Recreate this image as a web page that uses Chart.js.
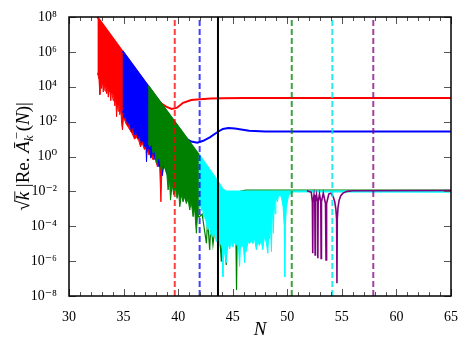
<!DOCTYPE html>
<html>
<head>
<meta charset="utf-8">
<script src="https://cdn.jsdelivr.net/npm/chart.js@4/dist/chart.umd.min.js"></script>
<style>
  html, body { margin: 0; padding: 0; background: #fff; }
  canvas { display: block; }
</style>
</head>
<body>
<canvas id="chart" width="463" height="348"></canvas>
<script>
// all values are log10 of sqrt(k)|Re A_k(N)|

// red: upper edge (envelope then smooth tail), lower edge of the spiky band
const redTopN = [32.6, 38.3, 38.9, 39.4, 39.9, 40.45, 41.2, 42.0, 43.0, 44.0, 46.0, 65.0];
const redTopLog = [8.0, 3.1, 2.86, 2.73, 2.8, 3.08, 3.24, 3.29, 3.32, 3.34, 3.35, 3.35];
const redLowN = [32.6, 32.68, 32.75, 32.83, 32.9, 32.97, 33.05, 33.14, 33.22, 33.3, 33.38, 33.45, 33.53, 33.6,
  33.68, 33.75, 33.83, 33.9, 33.98, 34.05, 34.12, 34.2, 34.28, 34.36, 34.43, 34.5, 34.58, 34.66, 34.74, 34.82,
  34.9, 35.0, 35.2, 35.4, 35.6, 35.8, 36.0, 36.2, 36.4, 36.55, 36.7, 36.9, 37.1, 37.3, 37.5, 37.7, 37.9, 38.1,
  38.3, 38.42, 38.5];
const redLowLog = [4.8, 4.6, 4.4, 3.55, 4.3, 3.9, 4.4, 3.7, 4.2, 3.75, 4.1, 3.6, 4.0, 3.4,
  3.9, 3.7, 3.2, 3.8, 3.5, 3.2, 3.6, 2.9, 3.4, 2.28, 3.1, 2.6, 3.0, 2.4, 2.8, 1.9,
  1.52, 2.3, 1.9, 1.7, 1.5, 1.3, 1.0, 1.1, 0.9, 0.55, 0.8, 0.4, 0.5, 0.1, 0.2, -0.2, -0.1, -0.6,
  -0.4, -2.6, -0.9];

// blue
const blueTopN = [34.9, 40.8, 41.2, 41.75, 42.3, 42.9, 43.65, 44.1, 44.6, 45.2, 46.5, 48.0, 52.0, 65.0];
const blueTopLog = [6.05, 1.0, 0.86, 0.79, 0.9, 1.1, 1.42, 1.58, 1.64, 1.6, 1.48, 1.44, 1.43, 1.43];
const blueLowN = [34.9, 34.97, 35.05, 35.15, 35.27, 35.4, 35.5, 35.58, 35.72, 35.8, 35.88, 36.03, 36.1, 36.19,
  36.34, 36.42, 36.49, 36.64, 36.72, 36.79, 36.95, 37.05, 37.1, 37.16, 37.3, 37.5, 37.7, 37.9, 38.1, 38.25,
  38.4, 38.55, 38.7, 38.95, 39.2, 39.5, 39.8, 40.1, 40.4, 40.6, 40.76, 40.8];
const blueLowLog = [2.6, 2.48, 2.2, 2.4, 2.09, 1.81, 2.0, 1.9, 1.42, 1.7, 1.62, 1.23, 1.5, 1.33,
  1.04, 1.2, 1.14, 0.76, 0.95, 0.85, 0.56, 0.7, -0.3, 0.4, 0.5, -0.1, 0.3, -0.2, 0.1, -0.6,
  -0.1, -1.1, -0.4, -1.0, -0.5, -1.2, -0.9, -1.6, -1.3, -2.0, -2.6, -1.8];

// green: solid band, then thin spikes settling on the plateau
const greenTopN = [37.25, 41.9];
const greenTopLog = [4.05, 0.1];
const greenLowN = [37.25, 37.4, 37.56, 37.7, 37.86, 38.0, 38.16, 38.32, 38.47, 38.62, 38.78, 38.95, 39.08,
  39.2, 39.3, 39.45, 39.6, 39.75, 39.9, 40.05, 40.15, 40.3, 40.45, 40.6, 40.75, 40.9, 41.06, 41.2, 41.37,
  41.5, 41.67, 41.78, 41.9];
const greenLowLog = [0.76, 0.56, 0.76, 0.18, 0.37, -0.39, -0.1, -0.2, -0.87, -0.49, -0.68, -0.9, -1.92,
  -1.2, -2.5, -1.6, -2.2, -1.8, -2.4, -2.0, -2.88, -2.2, -2.6, -2.3, -2.7, -2.4, -3.07, -2.6, -3.45,
  -2.9, -4.4, -3.3, -3.5];
const greenTailN = [41.9, 42.2, 42.59, 42.7, 42.89, 43.0, 43.19, 43.4, 43.7, 43.96, 44.1, 44.41, 44.5, 44.7,
  45.0, 45.25, 45.35, 45.45, 45.7, 46.2, 65.0];
const greenTailLog = [-3.5, -3.3, -4.98, -3.6, -5.36, -3.8, -5.07, -3.9, -3.6, -6.03, -3.5, -6.22, -3.0, -2.3,
  -2.05, -2.4, -7.65, -2.4, -2.0, -1.93, -1.92];

// cyan
const cyanTopN = [41.85, 43.65, 44.05, 44.3, 65.0];
const cyanTopLog = [0.15, -1.45, -1.85, -1.99, -2.02];
const cyanLowN = [41.85, 41.95, 42.05, 42.13, 42.25, 42.35, 42.45, 42.6, 42.73, 42.85, 43.0, 43.1, 43.2, 43.35,
  43.5, 43.65, 43.8, 43.95, 44.05, 44.1, 44.15, 44.26, 44.41, 44.5, 44.6, 44.72, 44.85, 45.02, 45.15, 45.3,
  45.45, 45.55, 45.63, 45.7, 45.85, 46.0, 46.09, 46.15, 46.24, 46.4, 46.54, 46.7, 46.85, 47.0, 47.16, 47.3,
  47.45, 47.6, 47.76, 47.9, 48.07, 48.22, 48.3, 48.37, 48.45, 48.55, 48.62, 48.72, 48.8, 48.88, 48.95, 49.1,
  49.2, 49.45, 49.62, 49.72, 49.77, 49.82, 49.92, 50.1, 50.35, 50.6];
const cyanLowLog = [-2.6, -3.0, -2.7, -3.1, -3.0, -3.6, -3.3, -3.9, -4.2, -3.9, -4.5, -4.2, -4.6, -4.4,
  -4.9, -4.8, -5.1, -4.9, -5.3, -6.9, -5.3, -5.55, -6.1, -5.4, -5.0, -5.3, -4.9, -5.2, -4.9, -5.1,
  -5.0, -5.4, -6.3, -5.3, -5.0, -5.3, -6.1, -5.4, -5.45, -4.9, -5.0, -4.8, -5.0, -4.7, -5.35, -4.9,
  -5.1, -4.8, -5.35, -4.6, -4.9, -5.55, -4.5, -4.7, -3.9, -5.45, -2.6, -4.4, -2.5, -3.3, -2.4, -2.6,
  -2.2, -2.3, -2.9, -4.0, -6.9, -4.0, -2.9, -2.3, -2.05, -2.02];

// purple: plateau with a few sharp dips
const purpleN = [51.8, 52.2, 52.3, 52.33, 52.36, 52.45, 52.52, 52.55, 52.58, 52.68, 52.77, 52.8, 52.83, 52.95,
  53.07, 53.1, 53.13, 53.3, 53.5, 53.55, 53.6, 53.8, 54.0, 54.2, 54.35, 54.45, 54.52, 54.55, 54.58, 54.65,
  54.75, 54.9, 55.1, 55.5, 56.0, 65.0];
const purpleLog = [-1.97, -2.05, -2.6, -5.55, -2.6, -2.2, -2.6, -5.65, -2.6, -2.2, -2.6, -5.84, -2.6, -2.15,
  -2.6, -5.84, -2.6, -2.1, -2.7, -5.93, -2.7, -2.15, -2.1, -2.3, -2.6, -3.0, -3.6, -7.27, -3.6, -2.9,
  -2.5, -2.25, -2.1, -2.0, -1.96, -1.95];

// vertical marker lines
const markerN = [39.69, 41.97, 43.65, 50.41, 54.13, 57.88];
const markerColor = ["rgba(255,0,0,0.75)", "rgba(0,0,255,0.75)", "#000", "rgba(0,128,0,0.75)", "rgba(0,230,230,0.85)", "rgba(128,0,128,0.75)"];
const markerDashed = [true, true, false, true, true, true];

const yTickVals = [1e-8, 1e-6, 1e-4, 1e-2, 1e0, 1e2, 1e4, 1e6, 1e8];
const FONT = "'Liberation Serif', 'DejaVu Serif', serif";

const pts = (ns, logs) => ns.map((n, i) => ({ x: n, y: Math.pow(10, logs[i]) }));

const SUP = { "-": "\u207B", "0": "\u2070", "1": "\u00B9", "2": "\u00B2", "4": "\u2074", "6": "\u2076", "8": "\u2078" };
function powLabel(v) {
  const e = String(Math.round(Math.log10(v)));
  return "10" + e.split("").map((c) => SUP[c] || c).join("");
}

function band(top, low, color, order) {
  return [
    { data: top, borderColor: color, backgroundColor: color, borderWidth: 2, fill: "+1", order: order + 0.1 },
    { data: low, borderColor: color, borderWidth: 1, fill: false, order },
  ];
}

const datasets = [
  ...band(pts(redTopN, redTopLog), pts(redLowN, redLowLog), "#ff0000", 7),
  ...band(pts(blueTopN, blueTopLog), pts(blueLowN, blueLowLog), "#0000ff", 6),
  { data: pts(greenTailN, greenTailLog), borderColor: "#008000", borderWidth: 1.2, fill: false, order: 5.5 },
  ...band(pts(cyanTopN, cyanTopLog), pts(cyanLowN, cyanLowLog), "#00ffff", 5),
  { data: pts(purpleN, purpleLog), borderColor: "#800080", borderWidth: 1.6, fill: false, order: 4 },
  ...band(pts(greenTopN, greenTopLog), pts(greenLowN, greenLowLog), "#008000", 3),
];

markerN.forEach((n, i) => {
  datasets.push({
    data: [{ x: n, y: 1e-8 }, { x: n, y: 1e8 }],
    borderColor: markerColor[i],
    borderWidth: 2,
    borderDash: markerDashed[i] ? [6, 3] : [],
    fill: false,
    order: 1,
  });
});

// frame and inward ticks on all four sides
const frameTicks = {
  id: "frameTicks",
  afterDraw(chart) {
    const { ctx, chartArea: a } = chart;
    const x = chart.scales.x, y = chart.scales.y;
    ctx.save();
    ctx.strokeStyle = "#555";
    ctx.lineWidth = 1;
    for (let n = 30; n <= 65; n++) {
      const px = Math.round(x.getPixelForValue(n)) + 0.5;
      const len = n % 5 === 0 ? 7 : 4;
      ctx.beginPath();
      ctx.moveTo(px, a.bottom); ctx.lineTo(px, a.bottom - len);
      ctx.moveTo(px, a.top); ctx.lineTo(px, a.top + len);
      ctx.stroke();
    }
    yTickVals.forEach((v) => {
      const py = Math.round(y.getPixelForValue(v)) + 0.5;
      ctx.beginPath();
      ctx.moveTo(a.left, py); ctx.lineTo(a.left + 7, py);
      ctx.moveTo(a.right, py); ctx.lineTo(a.right - 7, py);
      ctx.stroke();
    });
    ctx.strokeStyle = "#000";
    ctx.lineWidth = 1.5;
    ctx.strokeRect(a.left, a.top, a.right - a.left, a.bottom - a.top);
    ctx.restore();
  },
};

// y axis label with italic math parts: sqrt(k) |Re. A-bar_k^-(N)|
const yLabel = {
  id: "yLabel",
  afterDraw(chart) {
    const { ctx, chartArea: a } = chart;
    const big = (it) => `${it ? "italic " : ""}19px ${FONT}`;
    const small = (it) => `${it ? "italic " : ""}13px ${FONT}`;
    const parts = [
      { t: "\u221A", f: big(false) },
      { t: "k", f: big(true), bar: true },
      { t: " |Re. ", f: big(false) },
      { t: "\u0100", f: big(true) },
      { t: "k", f: small(true), dy: 4, stack: "\u2212" },
      { t: "(", f: big(false) },
      { t: "N", f: big(true) },
      { t: ")|", f: big(false) },
    ];
    ctx.save();
    let total = 0;
    parts.forEach((p) => {
      ctx.font = p.f;
      p.w = ctx.measureText(p.t).width;
      if (p.stack) p.w = Math.max(p.w, ctx.measureText(p.stack).width) + 1;
      total += p.w;
    });
    ctx.translate(29, (a.top + a.bottom) / 2);
    ctx.rotate(-Math.PI / 2);
    ctx.fillStyle = "#000";
    ctx.strokeStyle = "#000";
    ctx.textBaseline = "alphabetic";
    let cx = -total / 2;
    parts.forEach((p) => {
      ctx.font = p.f;
      ctx.fillText(p.t, cx, p.dy || 0);
      if (p.stack) ctx.fillText(p.stack, cx + 1, -8.5);
      if (p.bar) {
        ctx.lineWidth = 0.9;
        ctx.beginPath();
        ctx.moveTo(cx - 1, -14.2);
        ctx.lineTo(cx + p.w + 0.5, -14.2);
        ctx.stroke();
      }
      cx += p.w;
    });
    ctx.restore();
  },
};

new Chart(document.getElementById("chart"), {
  type: "line",
  data: { datasets },
  options: {
    responsive: false,
    animation: false,
    layout: { padding: { left: 0, right: 11, top: 17, bottom: 0 } },
    elements: { point: { radius: 0 }, line: { tension: 0 } },
    plugins: { legend: { display: false }, tooltip: { enabled: false } },
    scales: {
      x: {
        type: "linear",
        min: 30,
        max: 65,
        grid: { display: false },
        border: { display: false },
        ticks: { stepSize: 5, padding: 5, maxRotation: 0, color: "#000", font: { family: FONT, size: 14 } },
        title: { display: true, text: "N", color: "#000", font: { family: FONT, size: 19, style: "italic" }, padding: { top: 0, bottom: 7 } },
        afterFit: (s) => { s.height = 52; },
      },
      y: {
        type: "logarithmic",
        min: 1e-8,
        max: 1e8,
        grid: { display: false },
        border: { display: false },
        afterBuildTicks: (s) => { s.ticks = yTickVals.map((v) => ({ value: v })); },
        ticks: { autoSkip: false, padding: 4, color: "#000", font: { family: FONT, size: 14 }, callback: (v) => powLabel(v) },
        afterFit: (s) => { s.width = 69; },
      },
    },
  },
  plugins: [frameTicks, yLabel],
});
</script>
</body>
</html>
